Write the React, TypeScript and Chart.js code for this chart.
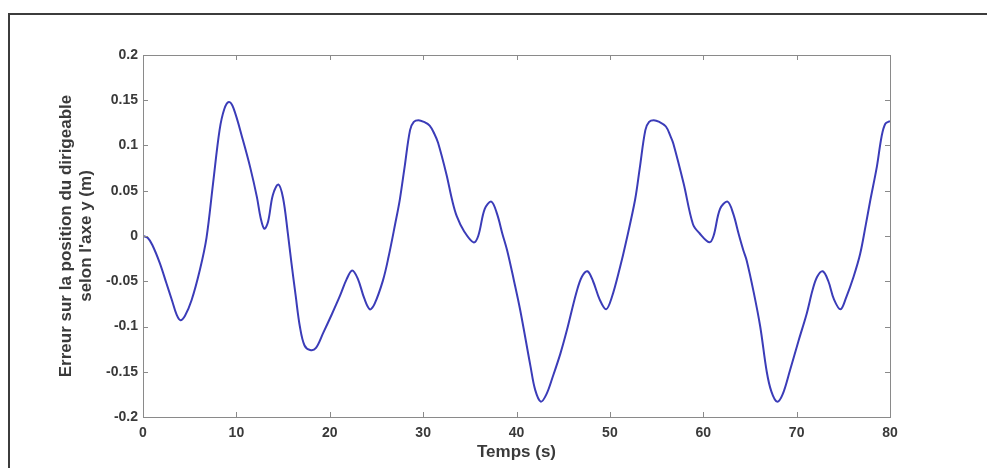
import React, { useEffect, useRef } from "react";
import { Chart, registerables } from "chart.js";

Chart.register(...registerables);

const times = [
  0, 0.5, 1, 1.8, 2.5, 3.1, 3.6, 4.0, 4.5, 5.2, 6.1, 6.8, 7.5, 8.2, 8.7, 9.2, 9.7, 10.7, 11.5, 12.2, 12.6, 13.0, 13.4, 13.9, 14.5, 15.0, 15.5, 15.9,
  16.35, 16.8, 17.3, 17.9, 18.5, 19.3, 20.2, 21.1, 21.8, 22.4, 23.0, 23.7, 24.3, 24.8, 25.7, 26.3, 27.0, 27.5, 28.0, 28.6, 29.0, 29.5, 30.1, 30.7, 31.2,
  31.6, 32.5, 33.1, 33.6, 34.4, 35.4, 35.9, 36.6, 37.3, 37.9, 38.5, 39.0, 39.7, 40.4, 41.5, 42.0, 42.6, 43.2, 43.9, 44.7, 45.4, 46.4, 47.0, 47.6, 48.2, 48.9,
  49.6, 50.2, 51.1, 51.7, 52.7, 53.2, 53.8, 54.2, 54.7, 55.3, 56.0, 56.5, 56.8, 57.9, 58.9, 59.6, 60.65, 61.1, 61.8, 62.6, 63.2, 63.8, 64.3, 64.65,
  65.4, 66.1, 66.8, 67.3, 67.9, 68.5, 69.3, 70.2, 71.1, 71.7, 72.2, 72.8, 73.4, 74.0, 74.7, 75.3, 76.1, 76.8, 77.4, 77.9, 78.6, 79.1, 79.5, 80,
];

const errors = [
  0, -0.002, -0.010, -0.030, -0.052, -0.071, -0.087, -0.093, -0.088, -0.071, -0.037, -0.002, 0.058, 0.117, 0.140, 0.148, 0.141, 0.106, 0.075, 0.043, 0.020, 0.008, 0.016, 0.045, 0.057, 0.042, 0.004, -0.030,
  -0.066, -0.100, -0.121, -0.126, -0.124, -0.107, -0.087, -0.066, -0.048, -0.038, -0.047, -0.069, -0.081, -0.075, -0.049, -0.023, 0.013, 0.040, 0.075, 0.117, 0.126, 0.128, 0.126, 0.122, 0.113,
  0.103, 0.068, 0.040, 0.022, 0.005, -0.007, 0.000, 0.030, 0.038, 0.025, 0.002, -0.016, -0.048, -0.082, -0.144, -0.170, -0.183, -0.175, -0.155, -0.130, -0.104, -0.063, -0.045, -0.039, -0.050, -0.070,
  -0.081, -0.068, -0.034, -0.008, 0.040, 0.075, 0.117, 0.126, 0.128, 0.126, 0.121, 0.110, 0.102, 0.058, 0.013, 0.003, -0.007, 0.000, 0.030, 0.038, 0.025, 0.002, -0.016, -0.027,
  -0.062, -0.100, -0.150, -0.172, -0.183, -0.175, -0.148, -0.116, -0.085, -0.060, -0.045, -0.039, -0.050, -0.070, -0.081, -0.068, -0.045, -0.020, 0.012, 0.040, 0.077, 0.110, 0.124, 0.127,
];

const xTickValues = [0, 10, 20, 30, 40, 50, 60, 70, 80];
const xTickLabels = ["0", "10", "20", "30", "40", "50", "60", "70", "80"];
const yTickValues = [-0.2, -0.15, -0.1, -0.05, 0, 0.05, 0.1, 0.15, 0.2];
const yTickLabels = ["-0.2", "-0.15", "-0.1", "-0.05", "0", "0.05", "0.1", "0.15", "0.2"];

const xTitle = "Temps (s)";
const yTitle = ["Erreur sur la position du dirigeable", "selon l'axe y (m)"];

const boxPlugin = {
  id: "matlabBox",
  afterDraw(chart: any) {
    const { ctx, chartArea } = chart;
    const { left, right, top, bottom } = chartArea;
    ctx.save();
    ctx.strokeStyle = "#8a8a8a";
    ctx.lineWidth = 1;
    ctx.strokeRect(left + 0.5, top + 0.5, right - left, bottom - top);
    const len = 5;
    ctx.beginPath();
    const xs = chart.scales.x;
    xTickValues.forEach((v) => {
      const px = Math.round(xs.getPixelForValue(v)) + 0.5;
      ctx.moveTo(px, bottom);
      ctx.lineTo(px, bottom - len);
      ctx.moveTo(px, top);
      ctx.lineTo(px, top + len);
    });
    const ys = chart.scales.y;
    yTickValues.forEach((v) => {
      const py = Math.round(ys.getPixelForValue(v)) + 0.5;
      ctx.moveTo(left, py);
      ctx.lineTo(left + len, py);
      ctx.moveTo(right, py);
      ctx.lineTo(right - len, py);
    });
    ctx.stroke();
    ctx.restore();
  },
};

export default function App() {
  const canvasRef = useRef<HTMLCanvasElement | null>(null);

  useEffect(() => {
    if (!canvasRef.current) return;
    const fontFamily = "'Liberation Sans', Arial, sans-serif";
    const chart = new Chart(canvasRef.current, {
      type: "line",
      data: {
        datasets: [
          {
            data: times.map((t, i) => ({ x: t, y: errors[i] })),
            borderColor: "#3b3cb8",
            borderWidth: 2,
            pointRadius: 0,
            fill: false,
            tension: 0.35,
          },
        ],
      },
      options: {
        animation: false,
        responsive: false,
        maintainAspectRatio: false,
        layout: { padding: { left: 0, top: 55, right: 97, bottom: 0 } },
        plugins: { legend: { display: false }, tooltip: { enabled: false } },
        scales: {
          x: {
            type: "linear",
            min: 0,
            max: 80,
            grid: { display: false, drawTicks: false },
            border: { display: false },
            afterBuildTicks: (scale: any) => {
              scale.ticks = xTickValues.map((v) => ({ value: v }));
            },
            afterFit: (scale: any) => {
              scale.height = 51;
            },
            ticks: {
              padding: 8,
              color: "#3a3a3a",
              font: { family: fontFamily, size: 14, weight: "bold" },
              maxRotation: 0,
              callback: (_v: any, i: number) => xTickLabels[i],
            },
            title: {
              display: true,
              text: xTitle,
              color: "#3a3a3a",
              font: { family: fontFamily, size: 17, weight: "bold" },
              padding: { top: 0, bottom: 5 },
            },
          },
          y: {
            type: "linear",
            min: -0.2,
            max: 0.2,
            grid: { display: false, drawTicks: false },
            border: { display: false },
            afterBuildTicks: (scale: any) => {
              scale.ticks = yTickValues.map((v) => ({ value: v }));
            },
            afterFit: (scale: any) => {
              scale.width = 143;
            },
            ticks: {
              padding: 5,
              color: "#3a3a3a",
              font: { family: fontFamily, size: 14, weight: "bold" },
              callback: (_v: any, i: number) => yTickLabels[i],
            },
            title: {
              display: true,
              text: yTitle,
              color: "#3a3a3a",
              font: { family: fontFamily, size: 17, weight: "bold", lineHeight: 1.2 },
              padding: { top: 56, bottom: 0 },
            },
          },
        },
      },
      plugins: [boxPlugin],
    } as any);
    return () => chart.destroy();
  }, []);

  return (
    <div style={{ position: "absolute", left: 0, top: 0, width: 987, height: 468, background: "#fff", overflow: "hidden" }}>
      <div
        style={{
          position: "absolute",
          left: 8,
          top: 13,
          width: 1000,
          height: 500,
          borderTop: "2px solid #3c3c3c",
          borderLeft: "2px solid #3c3c3c",
        }}
      />
      <canvas ref={canvasRef} width={987} height={468} style={{ position: "absolute", left: 0, top: 0, width: 987, height: 468 }} />
    </div>
  );
}
